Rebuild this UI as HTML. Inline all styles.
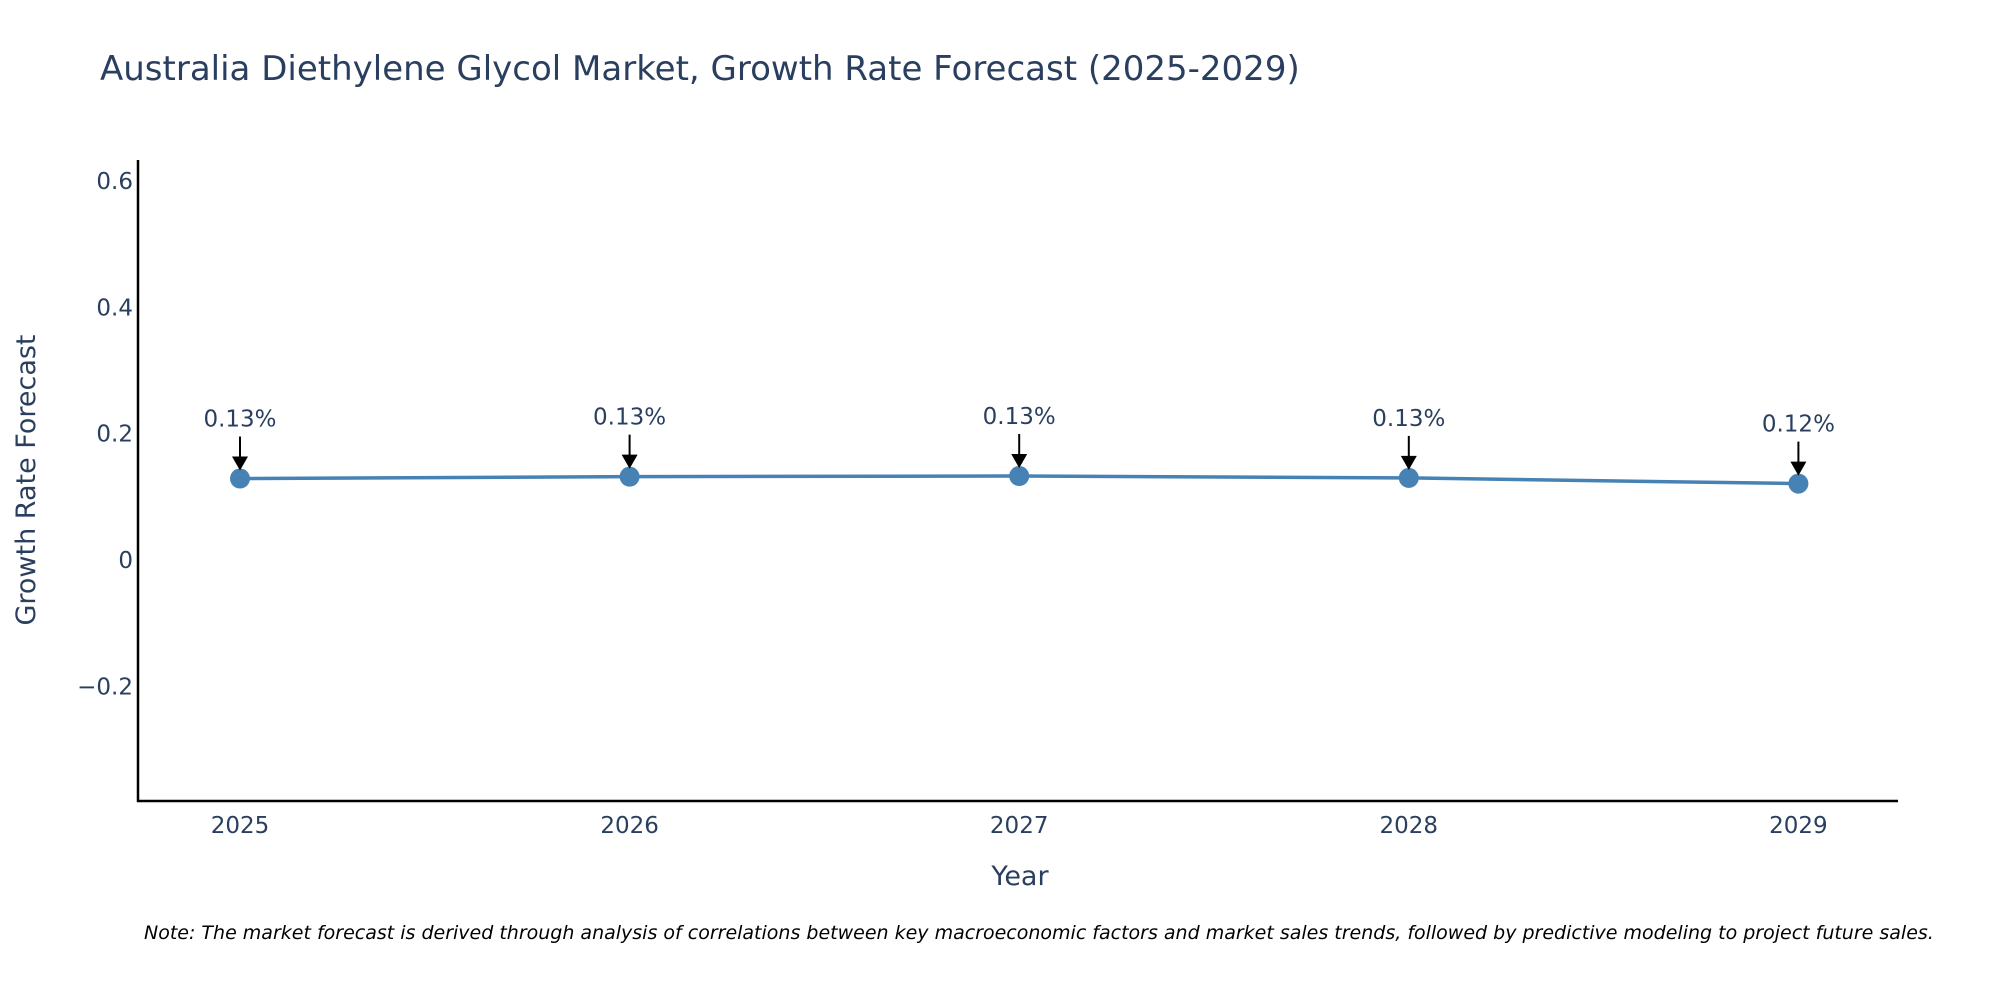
<!DOCTYPE html>
<html><head><meta charset="utf-8"><style>
body{margin:0;background:#fff;overflow:hidden;}
svg{display:block;font-family:"DejaVu Sans","Liberation Sans",sans-serif;}
</style></head><body>
<svg id="chart" width="2000" height="1000">
<text x="100" y="80" font-size="34" fill="#2a3f5f">Australia Diethylene Glycol Market, Growth Rate Forecast (2025-2029)</text>
<g id="yticks"></g><g id="xticks"></g>
<line x1="138" y1="160" x2="138" y2="802" stroke="#000" stroke-width="2.5"/>
<line x1="137" y1="801" x2="1898" y2="801" stroke="#000" stroke-width="2.5"/>
<g id="series"></g>
<text x="1020" y="885" font-size="27" fill="#2a3f5f" text-anchor="middle">Year</text>
<text transform="translate(35,480) rotate(-90)" font-size="27" fill="#2a3f5f" text-anchor="middle">Growth Rate Forecast</text>
<text x="144" y="939" font-size="19" font-style="italic" fill="#000">Note: The market forecast is derived through analysis of correlations between key macroeconomic factors and market sales trends, followed by predictive modeling to project future sales.</text>
</svg>
<script>
const years=["2025","2026","2027","2028","2029"];
const values=[0.129,0.132,0.133,0.130,0.121];
const labels=["0.13%","0.13%","0.13%","0.13%","0.12%"];
const yTicks=[-0.2,0,0.2,0.4,0.6];
const yTickLabels=["\u22120.2","0","0.2","0.4","0.6"];
const NS="http://www.w3.org/2000/svg";
const y=v=>560-(v)*631.5;
const x=i=>240+i*389.6;
function mk(t,a,p){const e=document.createElementNS(NS,t);for(const k in a)e.setAttribute(k,a[k]);p.appendChild(e);return e;}
const yt=document.getElementById('yticks');
yTicks.forEach((v,i)=>{const t=mk('text',{x:133,y:y(v)+8,'font-size':23,fill:'#2a3f5f','text-anchor':'end'},yt);t.textContent=yTickLabels[i];

});
const xt=document.getElementById('xticks');
years.forEach((yr,i)=>{const t=mk('text',{x:x(i),y:833,'font-size':23,fill:'#2a3f5f','text-anchor':'middle'},xt);t.textContent=yr;

});
const s=document.getElementById('series');
const line=mk('polyline',{points:values.map((v,i)=>x(i)+','+y(v)).join(' '),fill:'none',stroke:'#4682b4','stroke-width':3.5},s);


values.forEach((v,i)=>{const cx=x(i),cy=y(v);
const c=mk('circle',{cx:cx,cy:cy,r:10,fill:'#4682b4'},s);


const a=mk('line',{x1:cx,y1:cy-42,x2:cx,y2:cy-20,stroke:'#000','stroke-width':2},s);


const h=mk('polygon',{points:`${cx-8},${cy-22} ${cx+8},${cy-22} ${cx},${cy-8}`,fill:'#000'},s);


const t=mk('text',{x:cx,y:cy-52,'font-size':23,fill:'#2a3f5f','text-anchor':'middle'},s);t.textContent=labels[i];

});
</script>
</body></html>
